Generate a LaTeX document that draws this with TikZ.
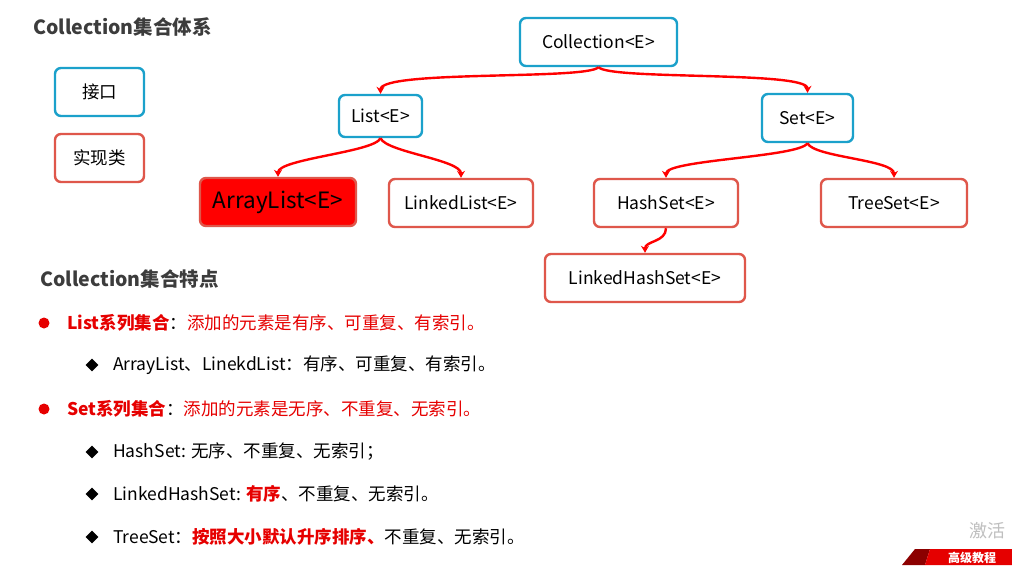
\documentclass[tikz,border=0pt]{standalone}
\usepackage{fontspec}
\setmainfont{Noto Sans CJK SC}
\usetikzlibrary{arrows.meta,shapes.geometric}
\definecolor{ifblue}{HTML}{1BA1CB}
\definecolor{implred}{HTML}{DF574B}
\definecolor{arr}{HTML}{FF0000}
\definecolor{txtred}{HTML}{E60000}
\definecolor{titlegray}{HTML}{3C3C3C}
\begin{document}
\begin{tikzpicture}[x=1pt,y=-1pt,
  box/.style={line width=2.4pt, rounded corners=6pt, fill=white, inner sep=0pt, font=\fontsize{17.5}{17.5}\selectfont},
  iface/.style={box, draw=ifblue},
  impl/.style={box, draw=implred},
  conn/.style={draw=arr, line width=2.4pt, -{Stealth[length=7pt,width=8pt]}},
  title/.style={font=\fontsize{19.5}{19.5}\selectfont\bfseries, text=titlegray, anchor=west, inner sep=0pt},
  txt/.style={font=\fontsize{17.5}{17.5}\selectfont, anchor=west, inner sep=0pt},
  dot/.style={circle, fill=txtred, inner sep=0pt, minimum size=11pt},
  dia/.style={diamond, fill=black, inner sep=0pt, minimum size=13pt}
]
\useasboundingbox (0,0) rectangle (1012,565);
\fill[white] (0,0) rectangle (1012,565);

% titles
\node[title] (t1) at (33,27) {Collection集合体系};
\node[title] (t2) at (40,279) {Collection集合特点};

% legend
\node[iface, minimum width=89pt, minimum height=48pt] (lg1) at (99.5,92) {接口};
\node[impl, minimum width=89pt, minimum height=48pt] (lg2) at (99.5,158) {实现类};

% tree nodes
\node[iface, minimum width=157pt, minimum height=48pt] (coll) at (598.5,42) {Collection<E>};
\node[iface, minimum width=83pt, minimum height=42pt] (list) at (380.5,116) {List<E>};
\node[iface, minimum width=91pt, minimum height=48pt] (set) at (807.5,118) {Set<E>};
\node[impl, fill=arr, minimum width=156pt, minimum height=48pt, font=\fontsize{22.5}{22.5}\selectfont] (al) at (278,202) {ArrayList<E>};
\node[impl, minimum width=144pt, minimum height=48pt] (ll) at (461,203) {LinkedList<E>};
\node[impl, minimum width=144pt, minimum height=48pt] (hs) at (666,203) {HashSet<E>};
\node[impl, minimum width=146pt, minimum height=48pt] (ts) at (894,203) {TreeSet<E>};
\node[impl, minimum width=200pt, minimum height=48pt] (lhs) at (645,278) {LinkedHashSet<E>};

% connectors
\draw[conn] (coll.south) .. controls +(-12,13) and +(0,-24) .. (list.north);
\draw[conn] (coll.south) .. controls +(12,13) and +(0,-22) .. (set.north);
\draw[conn] (list.south) .. controls +(-6,14) and +(0,-18) .. (al.north);
\draw[conn] (list.south) .. controls +(6,14) and +(0,-18) .. (ll.north);
\draw[conn] (set.south) .. controls +(-8,14) and +(0,-18) .. (hs.north);
\draw[conn] (set.south) .. controls +(6,14) and +(0,-18) .. (ts.north);
\draw[conn] (hs.south) .. controls +(0,14) and +(0,-12) .. (lhs.north);

% feature list
\node[dot] (b1) at (44,323) {};
\node[txt] (l1) at (67,323) {{\color{txtred}\bfseries List系列集合}：{\color{txtred}添加的元素是有序、可重复、有索引。}};
\node[dia] (d1) at (92,365) {};
\node[txt] (l2) at (113,365) {ArrayList、LinekdList：有序、可重复、有索引。};
\node[dot] (b2) at (44,409) {};
\node[txt] (l3) at (67,409) {{\color{txtred}\bfseries Set系列集合}：{\color{txtred}添加的元素是无序、不重复、无索引。}};
\node[dia] (d2) at (92,452) {};
\node[txt] (l4) at (113,452) {HashSet: 无序、不重复、无索引；};
\node[dia] (d3) at (92,494) {};
\node[txt] (l5) at (113,494) {LinkedHashSet: {\color{txtred}\bfseries 有序}、不重复、无索引。};
\node[dia] (d4) at (92,537) {};
\node[txt] (l6) at (113,537) {TreeSet：{\color{txtred}\bfseries 按照大小默认升序排序、}不重复、无索引。};

% corner watermark and banner
\node[font=\fontsize{18}{18}\selectfont, text=black!25, inner sep=0pt] (wm) at (987,531) {激活};
\fill[red!55!black] (902,565) -- (915,549) -- (930,549) -- (925,565) -- cycle;
\fill[red!90!black] (925,565) -- (930,549) -- (1012,549) -- (1012,565) -- cycle;
\node[font=\fontsize{12}{12}\selectfont\bfseries, text=white, inner sep=0pt] (bn) at (972,557.5) {高级教程};
\end{tikzpicture}
\end{document}
